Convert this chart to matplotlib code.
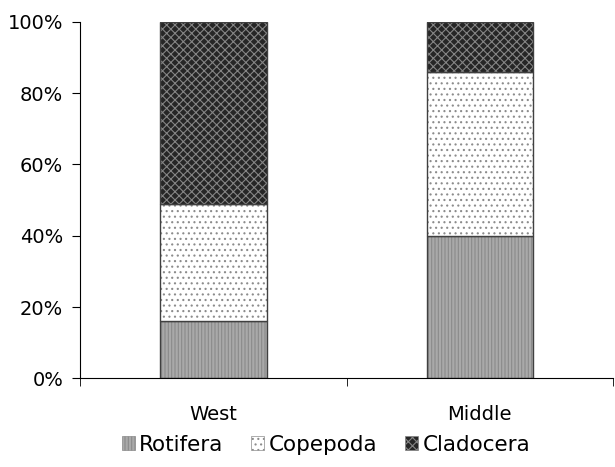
import numpy as np
import matplotlib
matplotlib.use('Agg')
import matplotlib.pyplot as plt
from matplotlib.patches import Patch
from matplotlib.ticker import FuncFormatter

sites = ['West', 'Middle']
groups = ['Rotifera', 'Copepoda', 'Cladocera']
rotifera = [16, 40]
copepoda = [33, 46]
cladocera = [51, 14]

styles = {
    'Rotifera': dict(face='#a9a9a9', hatch='|||||', hcol='#8a8a8a'),
    'Copepoda': dict(face='white', hatch='...', hcol='#8c8c8c'),
    'Cladocera': dict(face='#262626', hatch='xxxx', hcol='#858585'),
}

plt.rcParams['font.family'] = ['DejaVu Sans']
plt.rcParams['hatch.linewidth'] = 0.8

fig = plt.figure(figsize=(6.15, 4.67), dpi=100)
ax = fig.add_axes([0.13, 0.19, 0.867, 0.763])

x = np.arange(len(sites))
bottom = np.zeros(len(sites))
for name, vals in zip(groups, [rotifera, copepoda, cladocera]):
    st = styles[name]
    ax.bar(x, vals, 0.4, bottom=bottom, color=st['face'], hatch=st['hatch'],
           edgecolor=st['hcol'], linewidth=0)
    ax.bar(x, vals, 0.4, bottom=bottom, fill=False, edgecolor='#404040', linewidth=1)
    bottom += np.array(vals)

ax.set_xlim(-0.5, 1.5)
ax.set_ylim(0, 100)
ax.set_yticks(range(0, 101, 20))
ax.yaxis.set_major_formatter(FuncFormatter(lambda v, p: f'{v:.0f}%'))
ax.set_xticks(x)
ax.set_xticklabels(sites)
ax.set_xticks([-0.5, 0.5, 1.5], minor=True)
ax.tick_params(axis='x', which='major', length=0, pad=19, labelsize=14)
ax.tick_params(axis='x', which='minor', length=6, direction='out')
ax.tick_params(axis='y', length=6, labelsize=14, pad=6)
for s in ['top', 'right']:
    ax.spines[s].set_visible(False)

handles = [Patch(facecolor=styles[g]['face'], hatch=styles[g]['hatch'],
                 edgecolor=styles[g]['hcol'], linewidth=0.5) for g in groups]
fig.legend(handles, groups, loc='lower center', bbox_to_anchor=(0.53, -0.015), ncol=3,
           frameon=False, fontsize=15.5, handlelength=0.6, handleheight=0.6,
           handletextpad=0.2, columnspacing=1.3)

fig.savefig('out.png', dpi=100)
